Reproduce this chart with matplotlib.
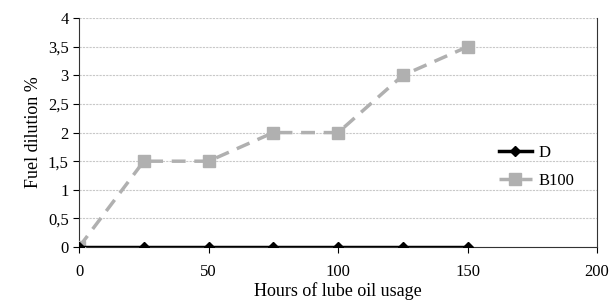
import numpy as np
import matplotlib.pyplot as plt
from matplotlib.ticker import FuncFormatter

# data
hours = [0, 25, 50, 75, 100, 125, 150]
d_vals = [0, 0, 0, 0, 0, 0, 0]
b100_vals = [0, 1.5, 1.5, 2, 2, 3, 3.5]

x_ticks = [0, 50, 100, 150, 200]
y_ticks = [0, 0.5, 1, 1.5, 2, 2.5, 3, 3.5, 4]

plt.rcParams["font.family"] = ["Liberation Serif", "DejaVu Serif"]

fig = plt.figure(figsize=(6.13, 3.02), dpi=100)
ax = fig.add_axes([0.129, 0.182, 0.845, 0.758])

ax.plot(hours, b100_vals, color="#b0b0b0", lw=2.5, ls=(0, (4, 2.5)),
        marker="s", ms=8, label="B100", zorder=3)
ax.plot(hours, d_vals, color="black", lw=2.5, marker="D", ms=5, label="D", zorder=4)

ax.set_xlim(0, 200)
ax.set_ylim(0, 4)
ax.set_xticks(x_ticks)
ax.set_yticks(y_ticks)
ax.yaxis.set_major_formatter(FuncFormatter(lambda v, p: f"{v:g}".replace(".", ",")))
ax.tick_params(labelsize=12, length=4, width=0.8, direction="out")
ax.tick_params(axis="x", pad=8)

ax.grid(axis="y", color="#c8c8c8", lw=0.8, ls=(0, (2, 1)))
ax.set_axisbelow(True)
ax.spines["top"].set_visible(False)
ax.spines["left"].set_color("#333333")
ax.spines["right"].set_color("#333333")
ax.spines["bottom"].set_color("#333333")

ax.set_xlabel("Hours of lube oil usage", fontsize=13, labelpad=2)
ax.set_ylabel("Fuel dilution %", fontsize=13)

handles, labels = ax.get_legend_handles_labels()
ax.legend(handles[::-1], labels[::-1], loc="center left", bbox_to_anchor=(0.794, 0.35),
          frameon=False, fontsize=12, handlelength=2.0, handletextpad=0.4,
          labelspacing=0.7, borderpad=0)

fig.savefig("out.png", dpi=100)
